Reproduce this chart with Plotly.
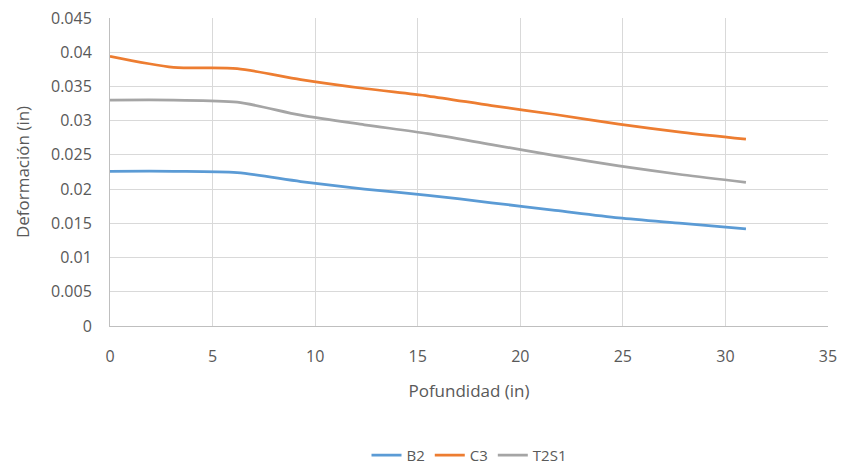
import plotly.graph_objects as go

depth = [0, 3.1, 6.2, 9.3, 12.4, 15.5, 18.6, 21.7, 24.8, 27.9, 31]
b2 = [0.0226, 0.0226, 0.0224, 0.0211, 0.0200, 0.0191, 0.0180, 0.0169, 0.0158, 0.0150, 0.0142]
c3 = [0.0394, 0.0378, 0.0376, 0.0360, 0.0347, 0.0336, 0.0322, 0.0309, 0.0295, 0.0283, 0.0273]
t2s1 = [0.0330, 0.0330, 0.0327, 0.0308, 0.0294, 0.0281, 0.0265, 0.0249, 0.0234, 0.0221, 0.0210]

series = [("B2", b2, "#5B9BD5"), ("C3", c3, "#ED7D31"), ("T2S1", t2s1, "#A5A5A5")]

fig = go.Figure()
for name, vals, color in series:
    fig.add_trace(go.Scatter(x=depth, y=vals, name=name, mode="lines",
                             line=dict(color=color, width=2.75, shape="spline", smoothing=0.8)))

font = "Open Sans, Liberation Sans, sans-serif"
fig.update_layout(
    width=838, height=464,
    margin=dict(l=102, r=18, t=10, b=146, autoexpand=False),
    paper_bgcolor="white", plot_bgcolor="white",
    font=dict(family=font, color="#595959", size=16),
    legend=dict(orientation="h", x=0.5, xanchor="center", y=-0.42, yanchor="middle",
                font=dict(size=15, color="#595959")),
    xaxis=dict(range=[0, 35], dtick=5, showgrid=True, gridcolor="#D9D9D9", gridwidth=1,
               showline=True, linecolor="#BFBFBF", zeroline=False, ticks="",
               ticklabelstandoff=16, automargin=False, ticklabeloverflow="allow",
               title=dict(text="Pofundidad (in)", font=dict(size=17), standoff=18)),
    yaxis=dict(range=[0, 0.045], dtick=0.005, showgrid=True, gridcolor="#D9D9D9", gridwidth=1,
               showline=True, linecolor="#BFBFBF", zeroline=False, ticks="",
               ticklabelstandoff=14, automargin=False, ticklabeloverflow="allow",
               title=dict(text="Deformación (in)", font=dict(size=17), standoff=17),
               tickformat="~g"),
)
fig.write_html("out.html")
